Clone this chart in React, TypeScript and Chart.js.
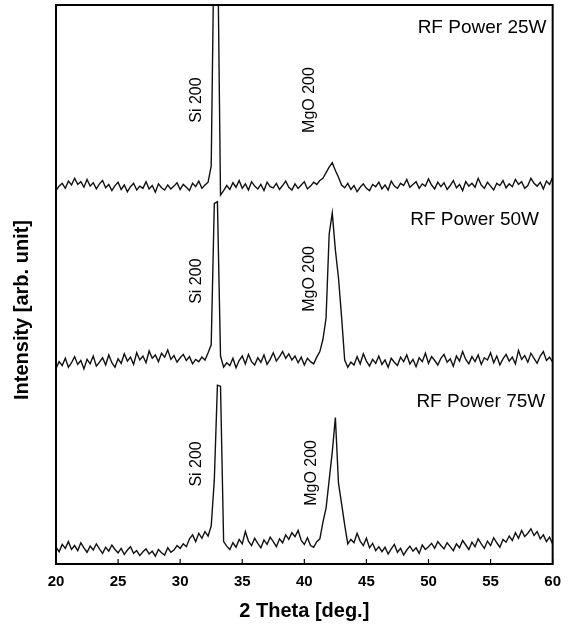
import React, { useEffect, useRef } from "react";
import { Chart, registerables } from "chart.js";
Chart.register(...registerables);

// 2 Theta scan positions [deg.]
const theta = [
  20, 20.25, 20.5, 20.75, 21, 21.25, 21.5, 21.75, 22, 22.25,
  22.5, 22.75, 23, 23.25, 23.5, 23.75, 24, 24.25, 24.5, 24.75,
  25, 25.25, 25.5, 25.75, 26, 26.25, 26.5, 26.75, 27, 27.25,
  27.5, 27.75, 28, 28.25, 28.5, 28.75, 29, 29.25, 29.5, 29.75,
  30, 30.25, 30.5, 30.75, 31, 31.25, 31.5, 31.75, 32, 32.25,
  32.5, 32.75, 33, 33.25, 33.5,
  33.75, 34, 34.25, 34.5, 34.75, 35, 35.25, 35.5, 35.75, 36,
  36.25, 36.5, 36.75, 37, 37.25, 37.5, 37.75, 38, 38.25, 38.5,
  38.75, 39, 39.25, 39.5, 39.75, 40, 40.25, 40.5, 40.75, 41,
  41.25, 41.5, 41.75, 42, 42.25, 42.5, 42.75, 43, 43.25, 43.5,
  43.75, 44, 44.25, 44.5, 44.75, 45, 45.25, 45.5, 45.75, 46,
  46.25, 46.5, 46.75, 47, 47.25, 47.5, 47.75, 48, 48.25, 48.5,
  48.75, 49, 49.25, 49.5, 49.75, 50, 50.25, 50.5, 50.75, 51,
  51.25, 51.5, 51.75, 52, 52.25, 52.5, 52.75, 53, 53.25, 53.5,
  53.75, 54, 54.25, 54.5, 54.75, 55, 55.25, 55.5, 55.75, 56,
  56.25, 56.5, 56.75, 57, 57.25, 57.5, 57.75, 58, 58.25, 58.5,
  58.75, 59, 59.25, 59.5, 59.75, 60,
];

// Intensities (arb. unit, stacked traces)
const power25W = [
  668, 676, 681, 672, 685, 678, 690, 679, 684, 674,
  688, 676, 682, 671, 680, 686, 673, 679, 668, 677,
  683, 670, 678, 666, 675, 681, 669, 676, 672, 684,
  671, 677, 665, 680, 673, 669, 678, 671, 676, 682,
  670, 679, 674, 668, 681, 675, 685, 672, 678, 683,
  712, 1150, 1150, 660, 668,
  677, 670, 682, 674, 686, 672, 680, 669, 684, 676,
  671, 679, 668, 683, 675, 673, 681, 670, 677, 685,
  674, 669, 680, 672, 678, 684, 671, 676, 683, 679,
  686, 690, 700, 710, 718, 704, 692, 678, 673, 681,
  670, 677, 666, 674, 680, 672, 668, 679, 675, 683,
  671, 678, 669, 685, 676, 672, 681, 677, 688, 674,
  679, 684, 672, 680, 676, 689, 678, 671, 683, 675,
  682, 670, 677, 686, 673, 679, 668, 684, 676, 681,
  674, 690, 678, 672, 683, 676, 669, 681, 677, 686,
  673, 680, 675, 688, 679, 684, 672, 677, 690, 681,
  676, 683, 671, 685, 679, 692,
];

const power50W = [
  350, 362, 355, 368, 352, 360, 371, 357, 364, 349,
  366, 358, 372, 354, 361, 369, 356, 374, 360, 352,
  367, 359, 376, 363, 370, 357, 378, 365, 372, 360,
  381, 368, 374, 362, 377, 370, 383, 366, 373, 361,
  369, 375, 364, 371, 358, 366, 362, 370, 365, 378,
  392, 645, 648, 372, 352,
  360, 355, 368, 351, 364, 372, 358, 375, 362, 356,
  369, 361, 374, 357, 366, 378, 363, 371, 380, 368,
  376, 365, 372, 360, 370, 356, 368, 362, 358, 370,
  380, 402, 440, 590, 628, 562, 512, 442, 365, 352,
  361, 356, 371, 358, 376, 363, 354, 366, 359, 372,
  357, 365, 352, 368, 361, 355, 370, 362, 374, 358,
  366, 353, 369, 362, 377, 359, 371, 364, 356, 368,
  375, 361, 367, 354, 372, 363, 380, 366, 358, 371,
  362, 374, 357, 369, 365, 378, 360, 372, 356, 367,
  375, 363, 370, 358, 382, 366, 373, 361, 377, 368,
  359, 372, 380, 364, 370, 361,
];

const power75W = [
  30, 22, 35, 28, 40, 26, 33, 24, 38, 29,
  21, 32, 25, 36, 27, 19, 30, 23, 34, 26,
  20, 28, 17, 25, 31, 19, 24, 15, 22, 27,
  18, 23, 14, 26, 20, 16, 29, 21, 25, 33,
  28, 36, 31, 45, 52, 40, 55, 46, 58, 50,
  68, 150, 320, 318, 40,
  32, 26, 38, 30, 44, 36, 58, 41, 33, 46,
  37, 29, 43, 35, 48, 40, 31, 45, 38, 52,
  44, 56, 49, 60, 42, 35, 47, 33, 30, 40,
  45, 75, 100, 150, 200, 262, 145, 108, 70, 36,
  44, 38, 55, 41, 33, 46, 29, 37, 24, 31,
  22, 30, 18, 27, 35, 21, 28, 16, 25, 32,
  23, 29, 19, 34, 26, 31, 37, 28, 40, 33,
  27, 38, 31, 24, 36, 29, 42, 34, 26, 39,
  31, 45, 36, 28, 41, 33, 47, 38, 30, 44,
  39, 50, 42, 56, 46, 60, 49, 55, 63, 51,
  58, 45, 52, 40, 48, 36,
];

const xTickValues = [20, 25, 30, 35, 40, 45, 50, 55, 60];

const seriesNames = ["RF Power 25W", "RF Power 50W", "RF Power 75W"];
const seriesNameX = [59.5, 58.9, 59.4];
const seriesNameY = [959, 615, 290];

const peakNames = ["Si 200", "MgO 200"];
const peakNameX = [
  [31.3, 40.4],
  [31.3, 40.45],
  [31.3, 40.6],
];
const peakNameY = [
  [830, 830],
  [506, 510],
  [179, 163],
];

const FONT = "'Liberation Sans', Arial, Helvetica, sans-serif";

const overlay = {
  id: "overlay",
  afterDraw(chart: any) {
    const { ctx, chartArea: a, scales } = chart;
    const x = scales.x;
    const y = scales.y;
    ctx.save();
    ctx.strokeStyle = "#000";
    ctx.lineWidth = 2;
    ctx.strokeRect(a.left, a.top, a.right - a.left, a.bottom - a.top);
    ctx.lineWidth = 1.2;
    xTickValues.forEach((v) => {
      const px = x.getPixelForValue(v);
      ctx.beginPath();
      ctx.moveTo(px, a.bottom);
      ctx.lineTo(px, a.bottom - 5);
      ctx.stroke();
    });

    ctx.fillStyle = "#000";
    ctx.font = `19px ${FONT}`;
    ctx.textAlign = "right";
    ctx.textBaseline = "middle";
    seriesNames.forEach((t, i) => {
      ctx.fillText(t, x.getPixelForValue(seriesNameX[i]), y.getPixelForValue(seriesNameY[i]));
    });

    ctx.font = `16px ${FONT}`;
    ctx.textAlign = "center";
    peakNameX.forEach((row, i) => {
      row.forEach((vx, j) => {
        ctx.save();
        ctx.translate(x.getPixelForValue(vx), y.getPixelForValue(peakNameY[i][j]));
        ctx.rotate(-Math.PI / 2);
        ctx.fillText(peakNames[j], 0, 0);
        ctx.restore();
      });
    });

    ctx.font = `bold 20px ${FONT}`;
    ctx.fillText("2 Theta [deg.]", (a.left + a.right) / 2, 611);
    ctx.save();
    ctx.translate(22, 310);
    ctx.rotate(-Math.PI / 2);
    ctx.fillText("Intensity [arb. unit]", 0, 0);
    ctx.restore();
    ctx.restore();
  },
};

export default function App() {
  const ref = useRef<HTMLCanvasElement | null>(null);
  useEffect(() => {
    if (!ref.current) return;
    const mk = (vals: number[]) => theta.map((t, i) => ({ x: t, y: vals[i] }));
    const ds = (vals: number[]) => ({
      data: mk(vals),
      borderColor: "#111",
      borderWidth: 1.4,
      pointRadius: 0,
      tension: 0,
      fill: false,
    });
    const chart = new Chart(ref.current, {
      type: "line",
      data: { datasets: [ds(power25W), ds(power50W), ds(power75W)] },
      options: {
        animation: false,
        responsive: false,
        maintainAspectRatio: false,
        layout: { padding: { top: 5, right: 15, left: 0, bottom: 0 } },
        plugins: { legend: { display: false }, tooltip: { enabled: false } },
        scales: {
          x: {
            type: "linear",
            min: 20,
            max: 60,
            afterFit: (s: any) => {
              s.height = 61;
            },
            afterBuildTicks: (s: any) => {
              s.ticks = xTickValues.map((v) => ({ value: v }));
            },
            grid: { display: false, drawTicks: false },
            border: { display: false },
            ticks: {
              padding: 9,
              color: "#000",
              maxRotation: 0,
              autoSkip: false,
              font: { family: FONT, weight: "bold", size: 15 },
            },
          },
          y: {
            min: 0,
            max: 1000,
            afterFit: (s: any) => {
              s.width = 56;
            },
            ticks: { display: false },
            grid: { display: false, drawTicks: false },
            border: { display: false },
          },
        },
      } as any,
      plugins: [overlay],
    });
    return () => chart.destroy();
  }, []);
  return (
    <div style={{ position: "absolute", left: 0, top: 0, width: 570, height: 625, background: "#fff" }}>
      <canvas ref={ref} width={570} height={625} style={{ display: "block" }} />
    </div>
  );
}
